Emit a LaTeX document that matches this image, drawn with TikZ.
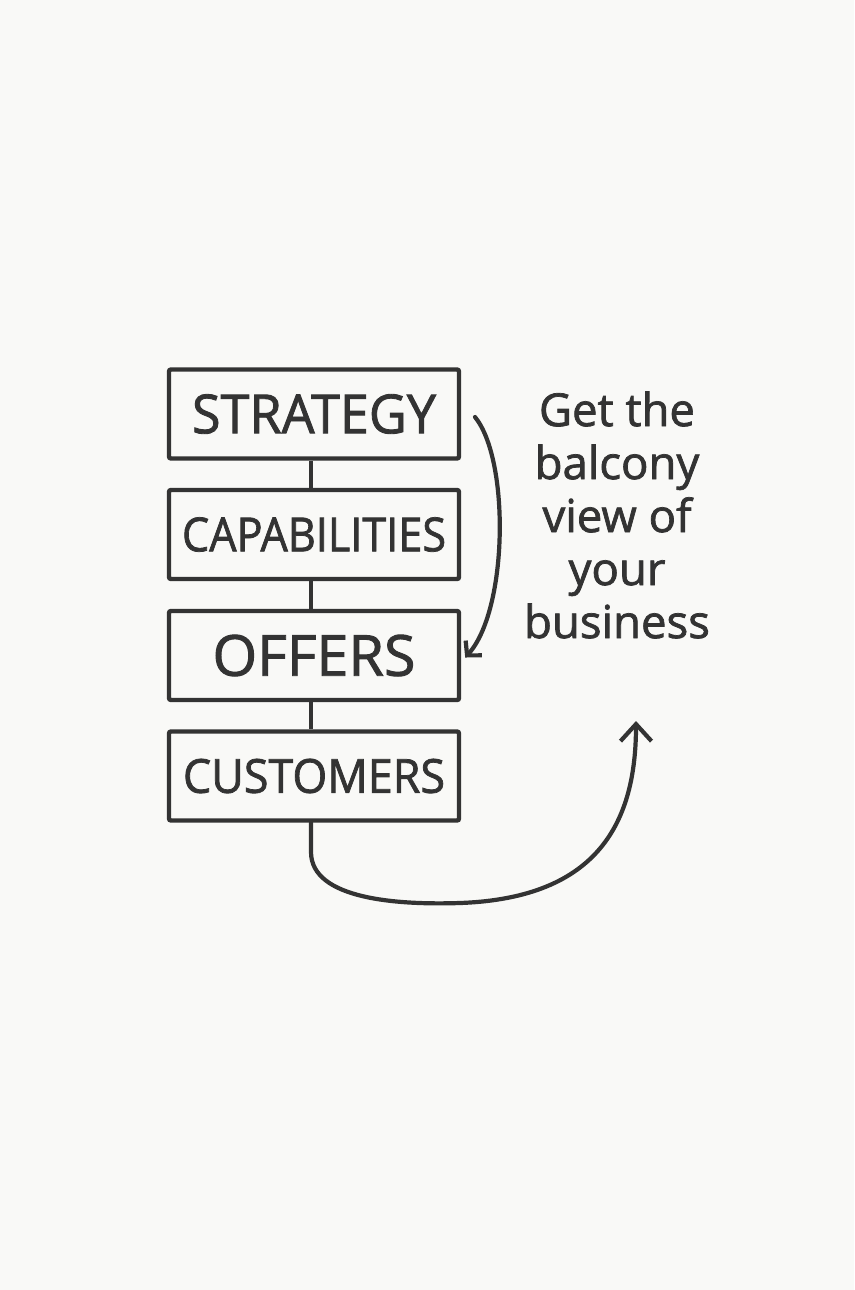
\documentclass[tikz,border=0pt]{standalone}
\usepackage{fontspec}
\setmainfont{Open Sans}[FakeBold=1.6]
\usetikzlibrary{arrows.meta}
\definecolor{ink}{HTML}{333333}
\definecolor{paper}{HTML}{F9F9F7}
\tikzset{
  stagebox/.style={draw=ink, line width=4.4pt, rounded corners=2pt, minimum width=290pt, minimum height=89pt, inner sep=0pt, text=ink},
  link/.style={draw=ink, line width=4.4pt},
  flow/.style={draw=ink, line width=4.2pt, line cap=round, -{Straight Barb[length=17pt,width=31pt,line width=4.2pt]}},
  flowsmall/.style={draw=ink, line width=4.2pt, line cap=round, -{Straight Barb[length=10pt,width=22pt,line width=4.2pt]}},
}
\begin{document}
\begin{tikzpicture}[x=1pt,y=-1pt]
\fill[paper] (0,0) rectangle (854,1290);
\useasboundingbox (0,0) rectangle (854,1290);
\node[stagebox] (s) at (314,414) {\resizebox{244pt}{39pt}{STRATEGY}};
\node[stagebox] (c) at (314,534.5) {\resizebox{264pt}{34pt}{CAPABILITIES}};
\node[stagebox] (o) at (314,655.5) {\resizebox{203pt}{41pt}{OFFERS}};
\node[stagebox] (u) at (314,776) {\resizebox{262pt}{34pt}{CUSTOMERS}};
\draw[link] ([xshift=-3pt]s.south) -- ([xshift=-3pt]c.north);
\draw[link] ([xshift=-3pt]c.south) -- ([xshift=-3pt]o.north);
\draw[link] ([xshift=-3pt]o.south) -- ([xshift=-3pt]u.north);
\node[text=ink, align=center, font=\fontsize{45.5}{53}\selectfont, inner sep=0pt] (t) at (617,515) {Get the\\balcony\\view of\\your\\business};
\coordinate (bstart) at (475,417);
\draw[flowsmall] (bstart) .. controls (510,460) and (508,610) .. ([xshift=4pt,yshift=-2pt]o.east);
\coordinate (tip) at (636,721);
\draw[flow] ([xshift=-3pt]u.south) -- (311,852) .. controls (311,900) and (400,905) .. (460,903) .. controls (600,898) and (636,820) .. (tip);
\end{tikzpicture}
\end{document}
